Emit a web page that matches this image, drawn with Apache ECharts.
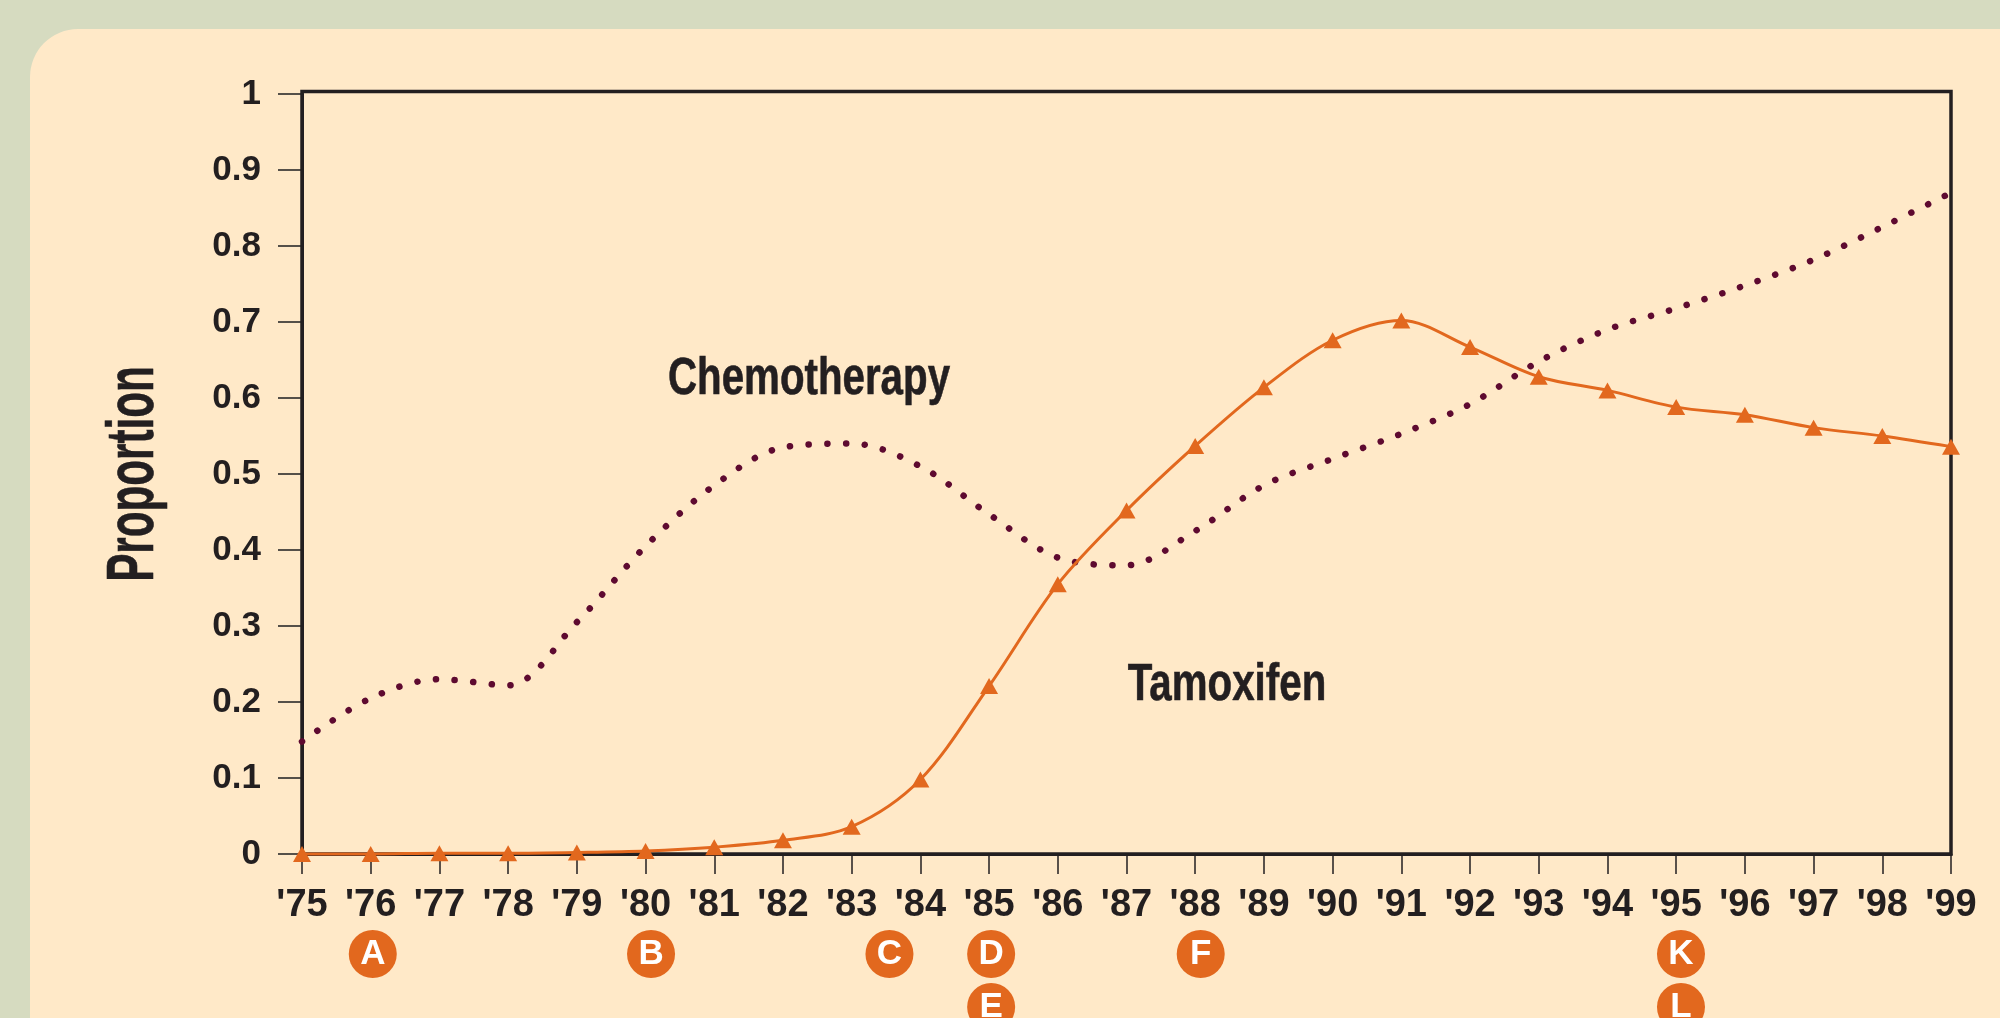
<!DOCTYPE html>
<html><head><meta charset="utf-8">
<style>html,body{margin:0;padding:0;background:#d6dbc0}#c{width:2000px;height:1018px}</style>
<script src="https://cdn.jsdelivr.net/npm/echarts@6/dist/echarts.min.js"></script>
</head><body><div id="c"></div>
<script>
const years = [1975,1976,1977,1978,1979,1980,1981,1982,1983,1984,1985,1986,1987,1988,1989,1990,1991,1992,1993,1994,1995,1996,1997,1998,1999];
const chemotherapy = [0.148,0.205,0.23,0.222,0.305,0.405,0.485,0.535,0.54,0.51,0.447,0.39,0.38,0.425,0.485,0.52,0.553,0.592,0.648,0.69,0.718,0.748,0.782,0.825,0.87];
const tamoxifen = [0,0,0.001,0.001,0.002,0.004,0.009,0.018,0.036,0.098,0.221,0.355,0.452,0.537,0.614,0.676,0.702,0.667,0.628,0.61,0.588,0.578,0.561,0.55,0.536];
const badgeNames = ['A','B','C','D','E','F','K','L'];
const badgeYears = [1976.03,1980.08,1983.55,1985.03,1985.03,1988.08,1995.07,1995.07];
const badgeRows = [-0.1316,-0.1316,-0.1316,-0.1316,-0.2013,-0.1316,-0.1316,-0.2013];
const ORANGE='#e2681e', WINE='#5e0a30', INK='#231f20';
const SANS='"Liberation Sans",Arial,sans-serif';
const chart = echarts.init(document.getElementById('c'),null,{renderer:'canvas'});
chart.setOption({
  backgroundColor:'#d6dbc0',
  animation:false,
  grid:{left:302,right:49,top:94,height:760,containLabel:false},
  xAxis:{type:'value',min:1975,max:1999,interval:1,splitLine:{show:false},
    axisLine:{show:true,onZero:false,lineStyle:{color:INK,width:3}},
    axisTick:{show:true,length:20,lineStyle:{color:INK,width:1.5}},
    axisLabel:{show:true,margin:33,fontFamily:SANS,fontWeight:'bold',fontSize:38,color:INK,showMinLabel:true,showMaxLabel:true,hideOverlap:false,
      formatter:v=>"'"+String(v).slice(2)}},
  yAxis:{type:'value',min:0,max:1,interval:0.1,splitLine:{show:false},
    axisLine:{show:true,lineStyle:{color:INK,width:3}},
    axisTick:{show:true,length:24,lineStyle:{color:'#555049',width:2}},
    axisLabel:{margin:41,fontFamily:SANS,fontWeight:'bold',fontSize:35,color:INK,padding:[0,0,5,0],
      formatter:v=>String(+v.toFixed(1))}},
  graphic:[
    {type:'rect',z:-10,shape:{x:30,y:29,width:2100,height:1100,r:48},style:{fill:'#ffe9c8'}},
    {type:'rect',z:1,shape:{x:302,y:91.5,width:1649,height:762.5},style:{fill:'none',stroke:INK,lineWidth:3.5}},
    {type:'text',z:5,x:809,y:380,scaleX:0.79,style:{x:0,y:0,text:'Chemotherapy',align:'center',verticalAlign:'middle',font:'bold 51px '+SANS,fill:INK,stroke:INK,lineWidth:0.6}},
    {type:'text',z:5,x:1227,y:686,scaleX:0.79,style:{x:0,y:0,text:'Tamoxifen',align:'center',verticalAlign:'middle',font:'bold 51px '+SANS,fill:INK,stroke:INK,lineWidth:0.6}},
    {type:'text',z:5,x:135,y:474,rotation:Math.PI/2,scaleX:0.63,style:{x:0,y:0,text:'Proportion',align:'center',verticalAlign:'middle',font:'bold 67px '+SANS,fill:INK,stroke:INK,lineWidth:0.6}}
  ],
  series:[
    {name:'Chemotherapy',type:'line',smooth:0.33,showSymbol:false,symbol:'none',clip:false,
     data:years.map((y,i)=>[y,chemotherapy[i]]),
     lineStyle:{color:WINE,width:6.5,type:[0.1,18.6],cap:'round'},z:3},
    {name:'Tamoxifen',type:'line',smooth:0.33,symbol:'triangle',symbolSize:[18,16],showAllSymbol:true,clip:false,
     data:years.map((y,i)=>[y,tamoxifen[i]]),
     itemStyle:{color:ORANGE},lineStyle:{color:ORANGE,width:3},z:4},
    {name:'Events',type:'scatter',clip:false,symbol:'circle',symbolSize:48,
     data:badgeNames.map((n,i)=>({name:n,value:[badgeYears[i],badgeRows[i]]})),
     itemStyle:{color:ORANGE,opacity:1},
     label:{show:true,position:'inside',formatter:p=>p.name,fontFamily:SANS,fontWeight:'bold',fontSize:35,color:'#fff'},z:5}
  ]
});
</script></body></html>
